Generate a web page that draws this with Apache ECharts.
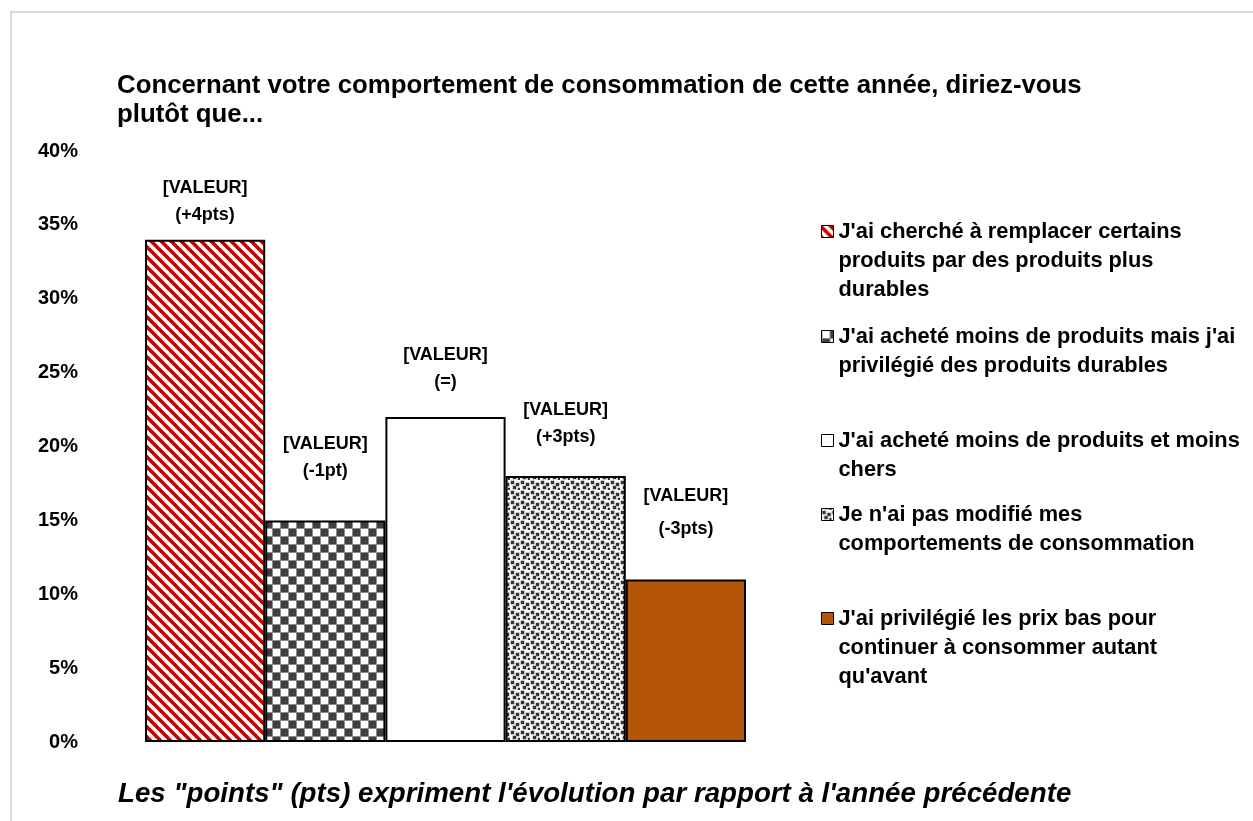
<!DOCTYPE html>
<html>
<head>
<meta charset="utf-8">
<script src="https://cdn.jsdelivr.net/npm/echarts@6/dist/echarts.min.js"></script>
<style>
  html, body { margin: 0; padding: 0; background: #fff; }
  #echart { width: 1253px; height: 821px; }
</style>
</head>
<body>
<div id="echart"></div>
<script>
// données
let seriesNames = [
    "J'ai cherché à remplacer certains\nproduits par des produits plus\ndurables",
    "J'ai acheté moins de produits mais j'ai\nprivilégié des produits durables",
    "J'ai acheté moins de produits et moins\nchers",
    "Je n'ai pas modifié mes\ncomportements de consommation",
    "J'ai privilégié les prix bas pour\ncontinuer à consommer autant\nqu'avant"
]
let values = [34, 15, 22, 18, 11]
let evolutions = ['+4pts', '-1pt', '=', '+3pts', '-3pts']
let yTicks = [0, 5, 10, 15, 20, 25, 30, 35, 40]

// mise en page
let labelDistance = [11, 36, 21, 26, 34]
let legendFirstLineY = [231, 336, 440, 514, 618]
let FONT = '"Liberation Sans", Arial, sans-serif'
let LH = 29

// motifs de remplissage
function makeCanvas(w, h, draw) {
    let c = document.createElement('canvas')
    c.width = w
    c.height = h
    draw(c.getContext('2d'))
    return c
}

let stripes = makeCanvas(10, 10, function (ctx) {
    ctx.fillStyle = '#fff'
    ctx.fillRect(0, 0, 10, 10)
    ctx.strokeStyle = '#c00000'
    ctx.lineWidth = 3.6
    for (let k = -10; k <= 10; k += 10) {
        ctx.beginPath()
        ctx.moveTo(k - 5, -5)
        ctx.lineTo(k + 15, 15)
        ctx.stroke()
    }
})

let checker = makeCanvas(16, 16, function (ctx) {
    ctx.fillStyle = '#8c8c8c'
    ctx.fillRect(0, 0, 16, 16)
    for (let i = 0; i < 2; i++) {
        for (let j = 0; j < 2; j++) {
            ctx.fillStyle = (i + j) % 2 === 0 ? '#3f3f3f' : '#fff'
            ctx.fillRect(i * 8 + 1, j * 8 + 1, 7, 7)
        }
    }
})

let dots = makeCanvas(10, 10, function (ctx) {
    ctx.fillStyle = '#fff'
    ctx.fillRect(0, 0, 10, 10)
    let pts = [[1, 1], [6, 3], [3, 6], [8, 8]]
    pts.forEach(function (p) {
        ctx.fillStyle = '#999'
        ctx.fillRect(p[0] - 0.5, p[1] - 0.5, 4, 4)
        ctx.fillStyle = '#333'
        ctx.fillRect(p[0], p[1], 3, 3)
    })
})

let fills = [
    {image: stripes, repeat: 'repeat'},
    {image: checker, repeat: 'repeat'},
    '#ffffff',
    {image: dots, repeat: 'repeat'},
    '#b45508'
]

let echart = echarts.init(document.getElementById('echart'))

let series = seriesNames.map(function (name, i) {
    return {
        name: name,
        type: 'bar',
        barGap: 0,
        barCategoryGap: 0,
        data: [values[i]],
        itemStyle: {
            color: fills[i],
            borderColor: '#000',
            borderWidth: 2
        },
        label: {
            show: true,
            position: 'top',
            distance: labelDistance[i],
            formatter: '[VALEUR]\n(' + evolutions[i] + ')',
            fontFamily: FONT,
            fontWeight: 'bold',
            fontSize: 18,
            lineHeight: i === 4 ? 33 : 27,
            color: '#000'
        },
        emphasis: {disabled: true}
    }
})

// légende : une par série, carré aligné sur la première ligne du texte
let legends = seriesNames.map(function (name, i) {
    let h = name.split('\n').length * LH
    let y0 = LH / 2 - 6
    return {
        data: [name],
        left: 821,
        top: legendFirstLineY[i] - LH / 2,
        padding: 0,
        itemWidth: 12,
        itemHeight: h,
        selectedMode: false,
        icon: 'path://M0,0L0,0M0,' + h + 'L0,' + h +
            'M0,' + y0 + 'L12,' + y0 + 'L12,' + (y0 + 12) + 'L0,' + (y0 + 12) + 'Z',
        itemStyle: {borderColor: '#000', borderWidth: 1},
        textStyle: {
            fontFamily: FONT,
            fontWeight: 'bold',
            fontSize: 21.8,
            lineHeight: LH,
            color: '#000'
        }
    }
})

let option = {
    animation: false,
    backgroundColor: '#fff',
    title: [
        {
            text: 'Concernant votre comportement de consommation de cette année, diriez-vous\nplutôt que...',
            left: 117,
            top: 86 - LH / 2,
            padding: 0,
            textStyle: {
                fontFamily: FONT,
                fontWeight: 'bold',
                fontSize: 25.8,
                lineHeight: LH,
                color: '#000'
            }
        },
        {
            text: 'Les "points" (pts) expriment l\'évolution par rapport à l\'année précédente',
            left: 118,
            top: 794 - LH / 2,
            padding: 0,
            textStyle: {
                fontFamily: FONT,
                fontWeight: 'bold',
                fontStyle: 'italic',
                fontSize: 27.7,
                lineHeight: LH,
                color: '#000'
            }
        }
    ],
    legend: legends,
    grid: {left: 145, right: 507, top: 151, bottom: 79},
    xAxis: {
        type: 'category',
        data: [''],
        axisLine: {show: false},
        axisTick: {show: false},
        axisLabel: {show: false}
    },
    yAxis: {
        type: 'value',
        min: yTicks[0],
        max: yTicks[yTicks.length - 1],
        interval: yTicks[1] - yTicks[0],
        axisLine: {show: false},
        axisTick: {show: false},
        splitLine: {show: false},
        axisLabel: {
            formatter: '{value}%',
            margin: 67,
            fontFamily: FONT,
            fontWeight: 'bold',
            fontSize: 20,
            color: '#000'
        }
    },
    graphic: [{
        type: 'rect',
        shape: {x: 11, y: 12, width: 1400, height: 1000},
        style: {fill: null, stroke: '#d9d9d9', lineWidth: 2},
        silent: true,
        z: -1
    }],
    series: series
}

echart.setOption(option)
</script>
</body>
</html>
